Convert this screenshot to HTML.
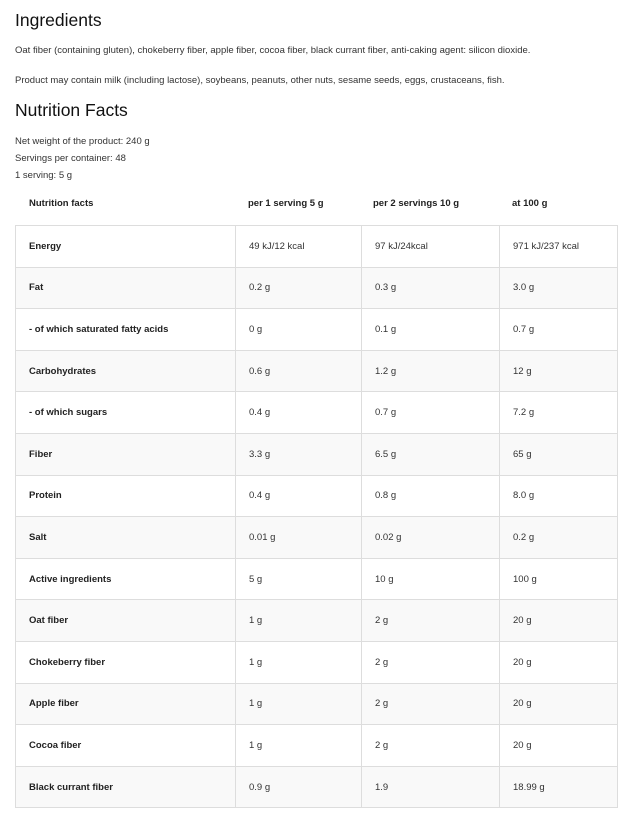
<!DOCTYPE html>
<html><head><style>
body{margin:0;width:634px;height:825px;background:#fff;font-family:"Liberation Sans",sans-serif;color:#333;position:relative;overflow:hidden}
.a{position:absolute;white-space:nowrap}
h{position:absolute;font-size:17.5px;color:#111;left:15px}
.t{font-size:9.5px}
table{position:absolute;left:15px;top:225px;width:602px;border-collapse:collapse;font-size:9.5px;table-layout:fixed}
td{border:1px solid #ddd;height:41.6px;padding:0 0 0 13px;vertical-align:middle;box-sizing:border-box}
td:first-child{font-weight:bold;color:#222}
tr:nth-child(even){background:#f9f9f9}
</style></head><body>
<h style="top:10px">Ingredients</h>
<div class="a t" style="left:15px;top:45px">Oat fiber (containing gluten), chokeberry fiber, apple fiber, cocoa fiber, black currant fiber, anti-caking agent: silicon dioxide.</div>
<div class="a t" style="left:15px;top:75px">Product may contain milk (including lactose), soybeans, peanuts, other nuts, sesame seeds, eggs, crustaceans, fish.</div>
<h style="top:100px">Nutrition Facts</h>
<div class="a t" style="left:15px;top:136px">Net weight of the product: 240 g</div>
<div class="a t" style="left:15px;top:153px">Servings per container: 48</div>
<div class="a t" style="left:15px;top:170px">1 serving: 5 g</div>
<div class="a t" style="left:29px;top:198px;font-weight:bold;color:#222">Nutrition facts</div>
<div class="a t" style="left:248px;top:198px;font-weight:bold;color:#222">per 1 serving 5 g</div>
<div class="a t" style="left:373px;top:198px;font-weight:bold;color:#222">per 2 servings 10 g</div>
<div class="a t" style="left:512px;top:198px;font-weight:bold;color:#222">at 100 g</div>
<table>
<colgroup><col style="width:220px"><col style="width:126px"><col style="width:138px"><col style="width:118px"></colgroup>
<tr><td>Energy</td><td>49 kJ/12 kcal</td><td>97 kJ/24kcal</td><td>971 kJ/237 kcal</td></tr>
<tr><td>Fat</td><td>0.2 g</td><td>0.3 g</td><td>3.0 g</td></tr>
<tr><td>- of which saturated fatty acids</td><td>0 g</td><td>0.1 g</td><td>0.7 g</td></tr>
<tr><td>Carbohydrates</td><td>0.6 g</td><td>1.2 g</td><td>12 g</td></tr>
<tr><td>- of which sugars</td><td>0.4 g</td><td>0.7 g</td><td>7.2 g</td></tr>
<tr><td>Fiber</td><td>3.3 g</td><td>6.5 g</td><td>65 g</td></tr>
<tr><td>Protein</td><td>0.4 g</td><td>0.8 g</td><td>8.0 g</td></tr>
<tr><td>Salt</td><td>0.01 g</td><td>0.02 g</td><td>0.2 g</td></tr>
<tr><td>Active ingredients</td><td>5 g</td><td>10 g</td><td>100 g</td></tr>
<tr><td>Oat fiber</td><td>1 g</td><td>2 g</td><td>20 g</td></tr>
<tr><td>Chokeberry fiber</td><td>1 g</td><td>2 g</td><td>20 g</td></tr>
<tr><td>Apple fiber</td><td>1 g</td><td>2 g</td><td>20 g</td></tr>
<tr><td>Cocoa fiber</td><td>1 g</td><td>2 g</td><td>20 g</td></tr>
<tr><td>Black currant fiber</td><td>0.9 g</td><td>1.9</td><td>18.99 g</td></tr>
</table>
</body></html>
